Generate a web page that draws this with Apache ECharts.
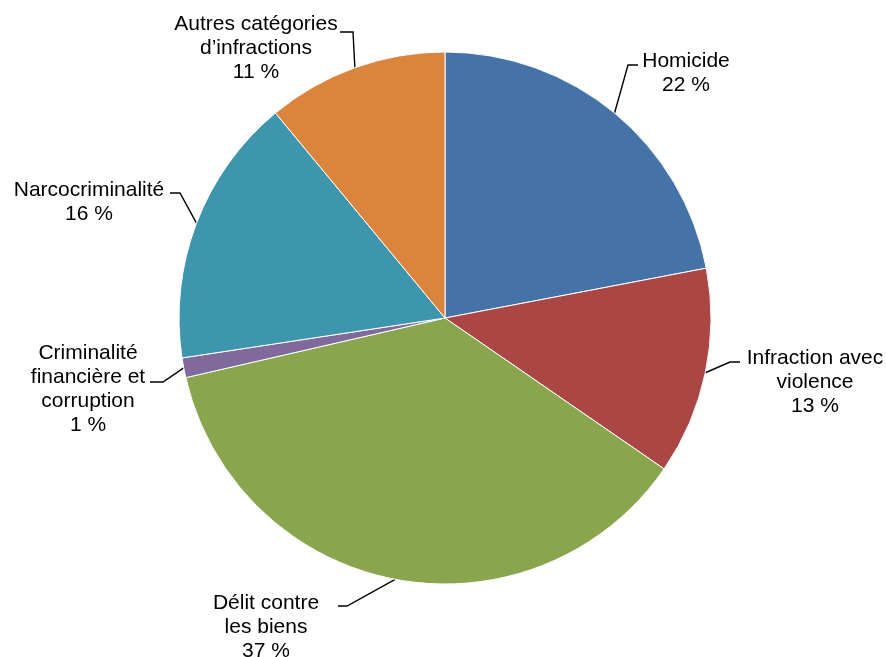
<!DOCTYPE html>
<html>
<head>
<meta charset="utf-8">
<script src="https://cdn.jsdelivr.net/npm/echarts@6/dist/echarts.min.js"></script>
<style>
    html, body { margin: 0; padding: 0; background: #fff; }
    #main { width: 886px; height: 657px; }
</style>
</head>
<body>
<div id="main"></div>
<script>
// catégories et parts (en %)
var categories = [
    'Homicide',
    'Infraction avec\nviolence',
    'Délit contre\nles biens',
    'Criminalité\nfinancière et\ncorruption',
    'Narcocriminalité',
    'Autres catégories\nd\u2019infractions'
];
var shares = [22.0, 12.6, 36.8, 1.2, 16.4, 11.0];
var colors = ['#4572A7', '#AA4643', '#89A54E', '#80699B', '#3D96AE', '#DB843D'];

// centre des étiquettes (px)
var labelPos = [
    [686, 73],
    [815, 382],
    [266, 627],
    [88, 389],
    [89, 202],
    [256, 48]
];
// lignes de rappel : coude puis bout côté texte (px)
var guideBend = [[628, 65], [730, 362], [347, 606], [163, 382], [180, 193], [353, 32]];
var guideEnd = [[638, 65], [740, 362], [338, 606], [150, 382], [170, 193], [340, 32]];

var chart = echarts.init(document.getElementById('main'));

var pieData = [];
for (var i = 0; i < categories.length; i++) {
    pieData.push({name: categories[i], value: shares[i], itemStyle: {color: colors[i]}});
}

chart.setOption({
    animation: false,
    series: [
        {
            type: 'pie',
            center: [445, 318],
            radius: 266,
            startAngle: 90,
            clockwise: true,
            itemStyle: {
                borderColor: '#ffffff',
                borderWidth: 1
            },
            label: {
                show: true,
                position: 'outside',
                fontFamily: 'Liberation Sans, Arial, sans-serif',
                fontSize: 21,
                lineHeight: 24,
                color: '#000',
                align: 'center',
                formatter: function (p) {
                    return p.name + '\n' + Math.round(p.percent) + ' %';
                }
            },
            labelLine: {
                show: true,
                length: 15,
                length2: 10,
                lineStyle: {color: '#000', width: 1.4}
            },
            labelLayout: function (p) {
                var k = p.dataIndex;
                var pos = labelPos[k];
                var out = {
                    x: pos[0],
                    y: pos[1],
                    align: 'center',
                    verticalAlign: 'middle'
                };
                if (p.labelLinePoints) {
                    out.labelLinePoints = [p.labelLinePoints[0], guideBend[k], guideEnd[k]];
                }
                return out;
            },
            data: pieData
        }
    ]
});

window.onresize = function () {
    chart.resize();
};
</script>
</body>
</html>
